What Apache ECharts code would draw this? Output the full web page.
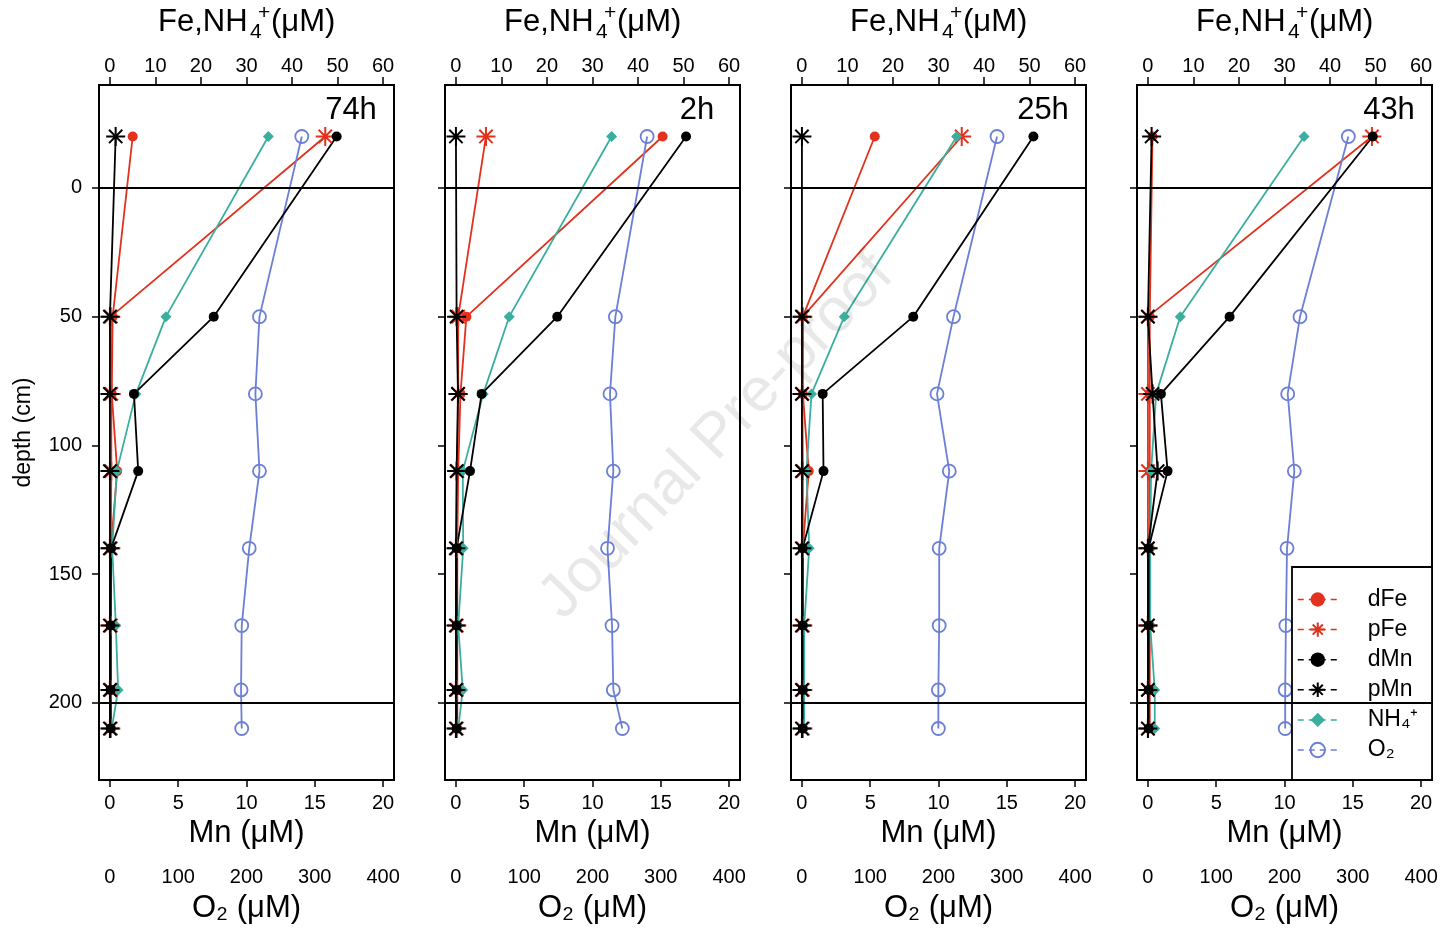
<!DOCTYPE html>
<html>
<head>
<meta charset="utf-8">
<title>Depth profiles</title>
<script src="https://cdn.jsdelivr.net/npm/echarts@6/dist/echarts.min.js"></script>
<style>
  html, body { margin: 0; padding: 0; background: #fff; }
  #chart { width: 1449px; height: 929px; }
</style>
</head>
<body>
<div id="chart"></div>
<script>
// sampling depths (cm), shared by all panels
const depth = [-20, 50, 80, 110, 140, 170, 195, 210];
const panelLabels = ['74h', '2h', '25h', '43h'];

const feTicks = [0, 10, 20, 30, 40, 50, 60];
const mnTicks = [0, 5, 10, 15, 20];
const o2Ticks = [0, 100, 200, 300, 400];
const depthTicks = [0, 50, 100, 150, 200];

// one row per panel (74h, 2h, 25h, 43h)
const dFe = [
  [5.0, 0.6, 0.4, 1.6, 0.2, 0.2, 0.2, 0.2],
  [45.4, 2.3, 1.0, 0.5, 0.3, 0.3, 0.3, 0.3],
  [16.0, 0.2, 0.2, 1.5, 0.2, 0.2, 0.2, 0.2],
  [1.0, 0.4, 0.4, 0.4, 0.4, 0.4, 0.4, 0.4]
];
const pFe = [
  [47.3, 0.2, 0.3, 0.3, 0.2, 0.2, 0.2, 0.2],
  [6.6, 0.5, 0.5, 0.3, 0.2, 0.2, 0.2, 0.2],
  [35.1, 0.2, 0.1, 0.2, 0.2, 0.2, 0.2, 0.2],
  [49.2, 0, 0, 0, 0, 0, 0, 0]
];
const dMn = [
  [16.6, 7.6, 1.76, 2.07, 0.08, 0.05, 0.05, 0.05],
  [16.85, 7.42, 1.88, 1.03, 0.05, 0.05, 0.05, 0.05],
  [16.95, 8.15, 1.52, 1.58, 0.05, 0.05, 0.05, 0.05],
  [16.46, 5.98, 0.95, 1.44, 0.05, 0.05, 0.05, 0.05]
];
const pMn = [
  [0.42, 0, 0, 0, 0, 0, 0, 0],
  [0, 0.05, 0.15, 0.05, 0, 0, 0, 0],
  [0, 0, 0, 0, 0, 0, 0, 0],
  [0.27, 0, 0.34, 0.71, 0, 0, 0, 0]
];
const nh4 = [
  [34.8, 12.3, 5.7, 1.5, 0.5, 1.3, 1.8, 0.4],
  [34.2, 11.7, 6.0, 1.5, 1.6, 0.5, 1.5, 0.5],
  [34.0, 9.3, 2.1, 1.0, 1.6, 0.5, 0.5, 0.5],
  [34.3, 7.1, 1.8, 0.7, 0.5, 0.5, 1.5, 1.5]
];
const o2 = [
  [281, 219, 213, 219, 204, 193, 192, 193],
  [280, 233.5, 225.6, 230.5, 222, 228.6, 230.5, 243.7],
  [285.7, 222, 197.8, 215.8, 201, 201, 199.8, 199.8],
  [293.5, 222.7, 204.7, 214.4, 203.7, 202, 201, 201]
];

const FONT = '"Liberation Sans", Arial, Helvetica, sans-serif';
const RED = '#E2311D', TEAL = '#3AAF9F', BLUE = '#6B7FD7', BLACK = '#000';
// R style asterisk (pch 8)
const STAR = 'path://M0,10L20,10M10,0L10,20M3,3L17,17M3,17L17,3';

const LEFT0 = 99, STEP = 346, TOP = 85, W = 295, H = 695;

const chart = echarts.init(document.getElementById('chart'));

const grids = [], xAxes = [], yAxes = [], series = [], graphics = [];

const tickStyle = { color: '#000', width: 1.5 };
const labelStyle = { color: '#000', fontSize: 20, fontFamily: FONT };

function txt(x, y, text, size, align, vAlign, extra) {
  return Object.assign({
    type: 'text', x, y, silent: true,
    style: {
      text, font: size + 'px ' + FONT, fill: '#000',
      textAlign: align, align: align,
      textVerticalAlign: vAlign, verticalAlign: vAlign
    }
  }, extra || {});
}

panelLabels.forEach((label, i) => {
  const left = LEFT0 + STEP * i;

  grids.push({
    left, top: TOP, width: W, height: H,
    show: true, borderColor: '#000', borderWidth: 2, backgroundColor: 'transparent'
  });

  // Fe, NH4+ (top)
  xAxes.push({
    type: 'value', gridIndex: i, position: 'top',
    min: -2.4, max: 62.4,
    axisLine: { show: false, onZero: false },
    axisTick: { show: true, length: 8, lineStyle: tickStyle, customValues: feTicks },
    axisLabel: { show: true, margin: 9, customValues: feTicks, ...labelStyle },
    splitLine: { show: false }
  });
  // Mn (bottom)
  xAxes.push({
    type: 'value', gridIndex: i, position: 'bottom',
    min: -0.8, max: 20.8,
    name: 'Mn (μM)', nameLocation: 'middle', nameGap: 34,
    nameTextStyle: { color: '#000', fontSize: 31, fontFamily: FONT },
    axisLine: { show: false, onZero: false },
    axisTick: { show: true, length: 7, lineStyle: tickStyle, customValues: mnTicks },
    axisLabel: { show: true, margin: 13, customValues: mnTicks, ...labelStyle },
    splitLine: { show: false }
  });
  // O2 (second bottom scale, labels only)
  xAxes.push({
    type: 'value', gridIndex: i, position: 'bottom', offset: 80,
    min: -16, max: 416,
    name: 'O₂ (μM)', nameLocation: 'middle', nameGap: 33,
    nameTextStyle: { color: '#000', fontSize: 31, fontFamily: FONT },
    axisLine: { show: false, onZero: false },
    axisTick: { show: false },
    axisLabel: { show: true, margin: 7, customValues: o2Ticks, ...labelStyle },
    splitLine: { show: false }
  });

  yAxes.push({
    type: 'value', gridIndex: i, inverse: true,
    min: -40, max: 230,
    name: i === 0 ? 'depth (cm)' : '', nameLocation: 'middle', nameGap: 64,
    nameTextStyle: { color: '#000', fontSize: 23, fontFamily: FONT },
    axisLine: { show: false, onZero: false },
    axisTick: { show: true, length: 7, lineStyle: tickStyle, customValues: depthTicks },
    axisLabel: { show: i === 0, margin: 17, customValues: depthTicks, ...labelStyle },
    splitLine: { show: false }
  });

  const mk = (name, axis, vals, symbol, size, color, fill, bw, z) => ({
    name, type: 'line',
    xAxisIndex: 3 * i + axis, yAxisIndex: i,
    data: vals.map((v, k) => [v, depth[k]]),
    symbol, symbolSize: size, showAllSymbol: true,
    lineStyle: { color, width: 1.8 },
    itemStyle: { color: fill, borderColor: color, borderWidth: bw },
    z, animation: false, silent: true
  });

  const dFeSeries = mk('dFe', 0, dFe[i], 'circle', 10, RED, RED, 0, 2);
  dFeSeries.markLine = {
    silent: true, symbol: 'none', animation: false,
    label: { show: false },
    lineStyle: { color: '#000', width: 1.8, type: 'solid' },
    data: [{ yAxis: 0 }, { yAxis: 200 }]
  };
  series.push(dFeSeries);
  series.push(mk('pFe', 0, pFe[i], STAR, 19, RED, RED, 2, 2));
  series.push(mk('NH₄⁺', 0, nh4[i], 'diamond', 11, TEAL, TEAL, 0, 2));
  series.push(mk('O₂', 2, o2[i], 'circle', 13, BLUE, 'transparent', 1.8, 2));
  series.push(mk('dMn', 1, dMn[i], 'circle', 10, BLACK, BLACK, 0, 2));
  series.push(mk('pMn', 1, pMn[i], STAR, 19, BLACK, BLACK, 2, 2));

  // top axis title Fe,NH4+(μM)
  graphics.push(txt(left + 59, 22, 'Fe,NH', 31, 'left', 'middle'));
  graphics.push(txt(left + 151, 32, '4', 21, 'left', 'middle'));
  graphics.push(txt(left + 159, 13, '+', 21, 'left', 'middle'));
  graphics.push(txt(left + 172, 22, '(μM)', 31, 'left', 'middle'));
  // panel label
  graphics.push(txt(left + 252, 110, label, 31, 'center', 'middle', { z: 6 }));
});

// legend frame (white box in the last panel)
graphics.push({
  type: 'rect', z: 3, silent: true,
  shape: { x: 1292, y: 567, width: 140, height: 213 },
  style: { fill: '#fff', stroke: '#000', lineWidth: 1.8 }
});

// watermark
graphics.push({
  type: 'text', x: 717, y: 437, rotation: Math.PI * 46 / 180, z: 10, silent: true,
  style: {
    text: 'Journal Pre-proof', font: '62px ' + FONT, fill: 'rgba(0,0,0,0.09)',
    textAlign: 'center', align: 'center', textVerticalAlign: 'middle', verticalAlign: 'middle'
  }
});

chart.setOption({
  animation: false,
  backgroundColor: '#fff',
  grid: grids,
  xAxis: xAxes,
  yAxis: yAxes,
  series,
  graphic: { elements: graphics },
  legend: {
    data: ['dFe', 'pFe', 'dMn', 'pMn', 'NH₄⁺', 'O₂'],
    orient: 'vertical', left: 1297, top: 588,
    padding: 0, itemWidth: 40, itemHeight: 18, itemGap: 7.1,
    selectedMode: false, z: 5,
    textStyle: { color: '#000', fontSize: 23, fontFamily: FONT, lineHeight: 22, padding: [0, 0, 0, 25] },
    lineStyle: { type: [6, 5], width: 1.5 }
  }
});
</script>
</body>
</html>
